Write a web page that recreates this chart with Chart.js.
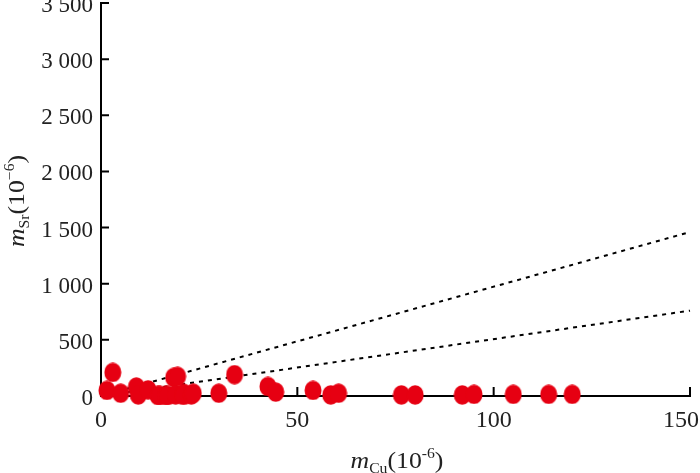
<!DOCTYPE html>
<html><head><meta charset="utf-8">
<script src="https://cdn.jsdelivr.net/npm/chart.js@4.4.0/dist/chart.umd.min.js"></script>
<style>html,body{margin:0;padding:0;background:#fff}#wrap{width:700px;height:473px;position:relative}</style>
</head><body><div id="wrap"><canvas id="c"></canvas></div>
<script>
const cuValues = [1.5, 3, 5, 9, 9.5, 12, 14.5, 15, 16.5, 17, 18.5, 19, 19.5, 21, 21, 23, 23.5, 30, 34, 42.5, 44.5, 54, 58.5, 60.5, 76.5, 80, 92, 95, 105, 114, 120];
const srValues = [50, 210, 25, 80, 10, 55, 5, 5, 5, 5, 165, 10, 175, 25, 5, 10, 25, 25, 190, 85, 35, 50, 10, 25, 10, 10, 10, 15, 15, 15, 15];
const upperLineCu = [0, 150];
const upperLineSr = [0, 1460];
const lowerLineCu = [0, 150];
const lowerLineSr = [0, 760];
const xTicks = [0, 50, 100, 150];
const xTickLabels = ['0', '50', '100', '150'];
const yTicks = [0, 500, 1000, 1500, 2000, 2500, 3000, 3500];
const yTickLabels = ['0', '500', '1 000', '1 500', '2 000', '2 500', '3 000', '3 500'];

const FONT = "'Liberation Serif','Times New Roman',serif";
const pts = cuValues.map((x, i) => ({x, y: srValues[i]}));
const up = upperLineCu.map((x, i) => ({x, y: upperLineSr[i]}));
const lo = lowerLineCu.map((x, i) => ({x, y: lowerLineSr[i]}));

// elliptical marker
const marker = document.createElement('canvas');
marker.width = 18; marker.height = 20;
(function () {
  const m = marker.getContext('2d');
  m.fillStyle = '#E60012';
  m.beginPath(); m.ellipse(9, 10, 8.5, 9.8, 0, 0, Math.PI * 2); m.fill();
})();

function drawRich(ctx, parts) {
  let w = 0;
  parts.forEach(p => { ctx.font = `${p[2]} ${p[1]}px ${FONT}`; p.w = ctx.measureText(p[0]).width; w += p.w; });
  let x = -w / 2;
  parts.forEach(p => { ctx.font = `${p[2]} ${p[1]}px ${FONT}`; ctx.fillText(p[0], x, p[3]); x += p.w; });
}

const custom = {
  id: 'custom',
  beforeDatasetsDraw(chart) {
    const ctx = chart.ctx, xs = chart.scales.x, ys = chart.scales.y;
    ctx.save();
    ctx.strokeStyle = '#000'; ctx.lineWidth = 2;
    ctx.beginPath();
    yTicks.forEach(v => { const py = ys.getPixelForValue(v); if (v > 0) { ctx.moveTo(xs.left, py); ctx.lineTo(xs.left + 8, py); } });
    xTicks.forEach(v => { const px = xs.getPixelForValue(v); if (v > 0) { ctx.moveTo(px, ys.bottom); ctx.lineTo(px, ys.bottom - 9); } });
    ctx.stroke();
    ctx.restore();
  },
  afterDraw(chart) {
    const ctx = chart.ctx;
    ctx.save();
    ctx.fillStyle = '#222'; ctx.textBaseline = 'alphabetic'; ctx.textAlign = 'left';
    ctx.translate(397, 468);
    ctx.scale(1.12, 1);
    drawRich(ctx, [['m', 23, 'italic', 0], ['Cu', 14, 'normal', 5], ['(10', 23, 'normal', 0], ['-6', 14, 'normal', -10], [')', 23, 'normal', 0]]);
    ctx.restore();
    ctx.save();
    ctx.fillStyle = '#222'; ctx.textBaseline = 'alphabetic'; ctx.textAlign = 'left';
    ctx.translate(24, 201); ctx.rotate(-Math.PI / 2);
    ctx.scale(1.12, 1);
    drawRich(ctx, [['m', 23, 'italic', 0], ['Sr', 14, 'normal', 5], ['(10', 23, 'normal', 0], ['\u22126', 14, 'normal', -10], [')', 23, 'normal', 0]]);
    ctx.restore();
  }
};

function zeroPad(s) { s.paddingLeft = 0; s.paddingRight = 0; s.paddingTop = 0; s.paddingBottom = 0; }

new Chart(document.getElementById('c'), {
  type: 'scatter',
  data: {
    datasets: [
      {data: up, showLine: true, borderColor: '#000', borderWidth: 2, borderDash: [4, 5], pointRadius: 0, clip: false, order: 2},
      {data: lo, showLine: true, borderColor: '#000', borderWidth: 2, borderDash: [4, 5], pointRadius: 0, clip: false, order: 2},
      {data: pts, pointStyle: marker, backgroundColor: '#E60012', borderColor: '#E60012', borderWidth: 0, pointRadius: 9, pointHoverRadius: 9, clip: false, order: 1}
    ]
  },
  options: {
    responsive: true, maintainAspectRatio: false, animation: false,
    devicePixelRatio: 1,
    layout: {autoPadding: false, padding: {top: 3, right: 10, left: 0, bottom: 0}},
    plugins: {legend: {display: false}, tooltip: {enabled: false}},
    scales: {
      x: {
        type: 'linear', min: 0, max: 150,
        afterBuildTicks: s => { s.ticks = xTicks.map(v => ({value: v})); },
        afterFit: s => { s.height = 77; zeroPad(s); },
        grid: {display: false, drawTicks: false},
        border: {display: true, color: '#000', width: 2},
        ticks: {padding: 10, color: '#222', font: {family: FONT, size: 24}, maxRotation: 0, autoSkip: false,
          callback: v => { const i = xTicks.indexOf(v); if (i < 0) return ''; return i === xTicks.length - 1 ? xTickLabels[i] + '   ' : xTickLabels[i]; }}
      },
      y: {
        type: 'linear', min: 0, max: 3500,
        afterBuildTicks: s => { s.ticks = yTicks.map(v => ({value: v})); },
        afterFit: s => { s.width = 101; zeroPad(s); },
        grid: {display: false, drawTicks: false},
        border: {display: true, color: '#000', width: 2},
        ticks: {padding: 8, labelOffset: 3, color: '#222', font: {family: FONT, size: 23}, autoSkip: false,
          callback: v => { const i = yTicks.indexOf(v); return i >= 0 ? yTickLabels[i] : ''; }}
      }
    }
  },
  plugins: [custom]
});
</script></body></html>
